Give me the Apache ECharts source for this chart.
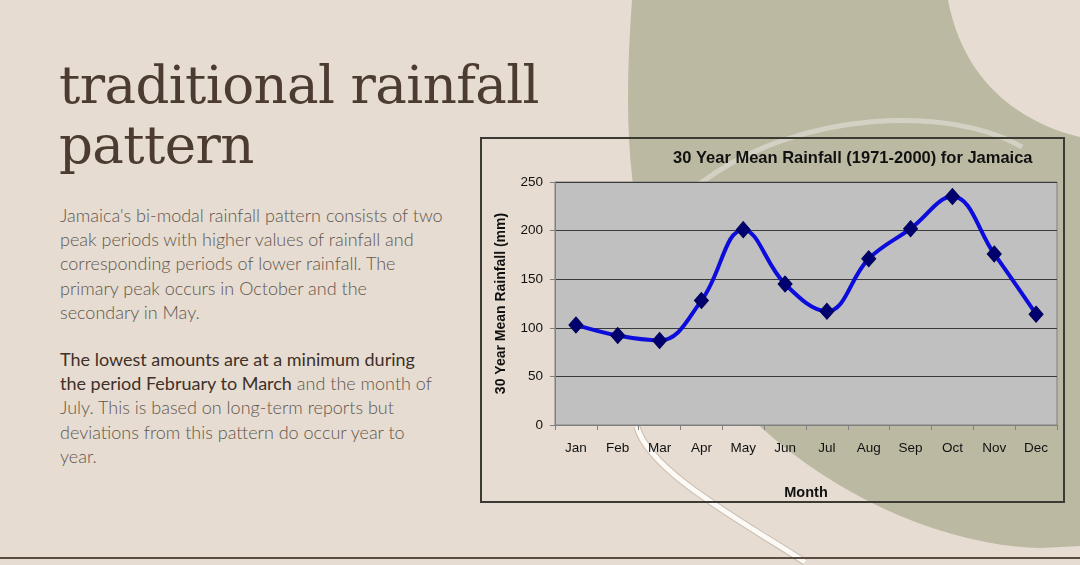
<!DOCTYPE html>
<html>
<head>
<meta charset="utf-8">
<title>traditional rainfall pattern</title>
<script src="https://cdn.jsdelivr.net/npm/echarts@6/dist/echarts.min.js"></script>
<style>
  html, body { margin: 0; padding: 0; }
  body { width: 1080px; height: 565px; position: relative; overflow: hidden; background: #e6dcd1; }
  #bg { position: absolute; left: 0; top: 0; }
  #chart { position: absolute; left: 0; top: 0; width: 1080px; height: 565px; }
  .heading {
    position: absolute; left: 59px; top: 55px; margin: 0;
    font-family: "DejaVu Serif", serif; font-weight: normal;
    font-size: 53px; line-height: 60px; color: #4b3b31; letter-spacing: -0.6px;
  }
  .body {
    position: absolute; left: 60px; width: 440px; margin: 0;
    font-family: Lato, "Open Sans", sans-serif; font-weight: 300;
    font-size: 18px; line-height: 24.2px; color: #62564d;
  }
  .body b { font-weight: 400; color: #3f3029; }
</style>
</head>
<body>
<svg id="bg" width="1080" height="565">
  <rect x="0" y="0" width="1080" height="565" fill="#e6dcd1"/>
  <path d="M 632 0 C 622 140, 626 260, 700 360 C 780 470, 920 545, 1040 548 L 1080 546 L 1080 137 C 1030 125, 965 90, 948 0 Z" fill="#bcb9a3"/>
  <path d="M 1022 147 C 950 105, 800 110, 702 182 C 642 226, 615 350, 637 427" fill="none" stroke="#ffffff" stroke-opacity="0.35" stroke-width="5"/>
  <path d="M 637 427 C 650 472, 740 520, 805 562" fill="none" stroke="#a89e94" stroke-opacity="0.5" stroke-width="7"/>
  <path d="M 637 427 C 650 472, 740 520, 805 562" fill="none" stroke="#fdfaf6" stroke-width="5"/>
  <rect x="481" y="138" width="583" height="364" fill="none" stroke="#3b3a33" stroke-width="2"/>
  <rect x="0" y="557" width="1080" height="2" fill="#5b4c40"/>
</svg>

<h1 class="heading">traditional rainfall<br>pattern</h1>
<p class="body" style="top: 203px;">Jamaica's bi-modal rainfall pattern consists of two<br>peak periods with higher values of rainfall and<br>corresponding periods of lower rainfall. The<br>primary peak occurs in October and the<br>secondary in May.</p>
<p class="body" style="top: 347px;"><b>The lowest amounts are at a minimum during<br>the period February to March</b> and the month of<br>July. This is based on long-term reports but<br>deviations from this pattern do occur year to<br>year.</p>

<div id="chart"></div>
<script>
  // 30 year mean rainfall (1971-2000)
  const months = ["Jan", "Feb", "Mar", "Apr", "May", "Jun", "Jul", "Aug", "Sep", "Oct", "Nov", "Dec"];
  const rainfall = [103, 92, 87, 128, 201, 145, 117, 171, 202, 235, 176, 114];
  const yTicks = [0, 50, 100, 150, 200, 250];

  const font = "Liberation Sans, Arial, sans-serif";
  const myChart = echarts.init(document.getElementById("chart"), null, { renderer: "canvas" });
  const option = {
    backgroundColor: "transparent",
    animation: false,
    title: {
      text: "30 Year Mean Rainfall (1971-2000) for Jamaica",
      left: 668,
      top: 145,
      textStyle: { fontFamily: font, fontSize: 16.5, fontWeight: "bold", color: "#111111" },
    },
    grid: {
      left: 555,
      top: 182,
      right: 23,
      bottom: 140,
      show: true,
      backgroundColor: "#c0c0c0",
      borderColor: "#808080",
      borderWidth: 1,
    },
    xAxis: {
      type: "category",
      data: months,
      boundaryGap: true,
      name: "Month",
      nameLocation: "middle",
      nameGap: 60,
      nameTextStyle: { fontFamily: font, fontSize: 14.5, fontWeight: "bold", color: "#111111" },
      axisLine: { lineStyle: { color: "#808080", width: 1 } },
      axisTick: { show: true, length: 5, alignWithLabel: false, lineStyle: { color: "#808080" } },
      axisLabel: { fontFamily: font, fontSize: 13.5, color: "#111111", margin: 16 },
      splitLine: { show: false },
    },
    yAxis: {
      type: "value",
      min: yTicks[0],
      max: yTicks[yTicks.length - 1],
      interval: 50,
      name: "30 Year Mean Rainfall (mm)",
      nameLocation: "middle",
      nameRotate: 90,
      nameGap: 47,
      nameTextStyle: { fontFamily: font, fontSize: 14, fontWeight: "bold", color: "#111111" },
      axisLine: { show: true, lineStyle: { color: "#808080", width: 1 } },
      axisTick: { show: true, length: 5, lineStyle: { color: "#808080" } },
      axisLabel: { fontFamily: font, fontSize: 13.5, color: "#111111", margin: 12 },
      splitLine: { show: true, lineStyle: { color: "#3a3a3a", width: 1 } },
    },
    series: [
      {
        type: "line",
        data: rainfall,
        smooth: 0.4,
        symbol: "diamond",
        symbolSize: [14, 16],
        lineStyle: { color: "#0c0cdc", width: 4 },
        itemStyle: { color: "#00006e", borderColor: "#00005a", borderWidth: 1 },
        z: 3,
      },
    ],
  };
  option && myChart.setOption(option);
</script>
</body>
</html>
